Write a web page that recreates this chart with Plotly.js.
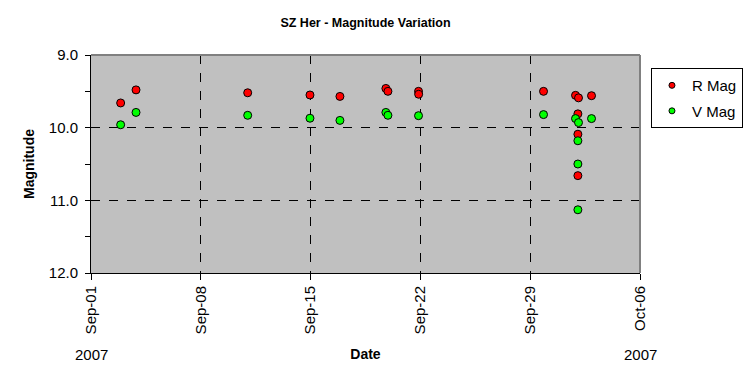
<!DOCTYPE html>
<html>
<head>
<meta charset="utf-8">
<script src="https://cdn.plot.ly/plotly-3.0.1.min.js"></script>
<style>html,body{margin:0;padding:0;background:#fff;}#chart{width:749px;height:385px;}</style>
</head>
<body>
<div id="chart"></div>
<script>
var rDates = ["2007-09-02 21:22","2007-09-03 20:53","2007-09-10 23:45","2007-09-14 23:02","2007-09-16 20:53","2007-09-19 19:12","2007-09-19 22:19","2007-09-21 21:07","2007-09-21 21:20","2007-09-29 20:24","2007-10-01 21:21","2007-10-02 01:55","2007-10-02 00:58","2007-10-02 00:58","2007-10-02 00:58","2007-10-02 21:50"];
var rMag = [9.66,9.48,9.52,9.55,9.57,9.46,9.50,9.50,9.54,9.50,9.555,9.59,9.81,10.09,10.66,9.56];
var vDates = ["2007-09-02 21:22","2007-09-03 20:53","2007-09-10 23:45","2007-09-14 23:02","2007-09-16 20:53","2007-09-19 19:12","2007-09-19 22:19","2007-09-21 21:07","2007-09-29 20:24","2007-10-01 21:21","2007-10-02 01:55","2007-10-02 00:58","2007-10-02 00:58","2007-10-02 00:58","2007-10-02 21:50"];
var vMag = [9.96,9.79,9.83,9.87,9.90,9.79,9.83,9.835,9.82,9.875,9.93,10.18,10.50,11.13,9.875];
var xTickVals = ["2007-09-01","2007-09-08","2007-09-15","2007-09-22","2007-09-29","2007-10-06"];
var xTickText = ["Sep-01","Sep-08","Sep-15","Sep-22","Sep-29","Oct-06"];
var yTickVals = [9,10,11,12];
var yTickText = ["9.0","10.0","11.0","12.0"];
var yMinorVals = [9.5, 10.5, 11.5];
var seriesNames = ["R Mag", "V Mag"];
var seriesColors = ["#ff0000", "#00ff00"];

var font = "Arial, 'Liberation Sans', sans-serif";
var traces = [
  {x: rDates, y: rMag, name: seriesNames[0], mode: "markers", type: "scatter", showlegend: false,
   marker: {color: seriesColors[0], size: 8, line: {color: "#000", width: 1}}},
  {x: vDates, y: vMag, name: seriesNames[1], mode: "markers", type: "scatter", showlegend: false,
   marker: {color: seriesColors[1], size: 8, line: {color: "#000", width: 1}}},
  {x: [null], y: [null], name: seriesNames[0], mode: "markers", type: "scatter", legendgroup: "r",
   marker: {color: seriesColors[0], size: 6, line: {color: "#000", width: 1}}},
  {x: [null], y: [null], name: seriesNames[1], mode: "markers", type: "scatter", legendgroup: "v",
   marker: {color: seriesColors[1], size: 6, line: {color: "#000", width: 1}}}
];
var layout = {
  width: 749, height: 385,
  margin: {l: 91, r: 109, t: 55, b: 112, pad: 0, autoexpand: false},
  paper_bgcolor: "#ffffff",
  plot_bgcolor: "#c0c0c0",
  font: {family: font, size: 15, color: "#000"},
  title: {text: "<b>SZ Her - Magnitude Variation</b>", font: {family: font, size: 12.5, color: "#000"},
          x: 0.5, xref: "paper", xanchor: "center", y: 0.94, yref: "container", yanchor: "middle"},
  showlegend: true,
  legend: {x: 1.02, y: 0.94, xanchor: "left", yanchor: "top", bordercolor: "#000", borderwidth: 1,
           bgcolor: "#fff", font: {family: font, size: 15, color: "#000"}, itemsizing: "trace",
           itemwidth: 30, tracegroupgap: 3},
  xaxis: {type: "date", range: ["2007-09-01", "2007-10-06"], tickmode: "array", tickvals: xTickVals, ticktext: xTickText,
          tickangle: -90, ticks: "outside", ticklen: 6, tickcolor: "#000", showline: true, linecolor: "#000", linewidth: 1,
          showgrid: true, gridcolor: "#000", griddash: "dash", gridwidth: 1, zeroline: false,
          tickfont: {family: font, size: 15, color: "#000"},
          title: {text: "<b>Date</b>", font: {family: font, size: 14, color: "#000"}, standoff: 15}},
  yaxis: {range: [12, 9], tickmode: "array", tickvals: yTickVals, ticktext: yTickText,
          ticks: "outside", ticklen: 5, tickcolor: "#000", showline: true, linecolor: "#000", linewidth: 1,
          showgrid: true, gridcolor: "#000", griddash: "dash", gridwidth: 1, zeroline: false,
          tickfont: {family: font, size: 15, color: "#000"}, ticklabelstandoff: 4,
          minor: {tickvals: yMinorVals, ticks: "outside", ticklen: 5, tickcolor: "#000", showgrid: false},
          title: {text: "<b>Magnitude</b>", font: {family: font, size: 14, color: "#000"}, standoff: 10}},
  shapes: [
    {type: "line", xref: "paper", yref: "paper", x0: 0, x1: 1, y0: 1, y1: 1, line: {color: "#808080", width: 2}, layer: "above"},
    {type: "line", xref: "paper", yref: "paper", x0: 1, x1: 1, y0: 0, y1: 1, line: {color: "#808080", width: 2}, layer: "above"}
  ],
  annotations: [
    {text: "2007", xref: "paper", yref: "paper", x: 0, y: -0.375, xanchor: "center", yanchor: "middle", showarrow: false, font: {family: font, size: 15, color: "#000"}},
    {text: "2007", xref: "paper", yref: "paper", x: 1, y: -0.375, xanchor: "center", yanchor: "middle", showarrow: false, font: {family: font, size: 15, color: "#000"}}
  ]
};
Plotly.newPlot("chart", traces, layout, {displayModeBar: false, staticPlot: true});
</script>
</body>
</html>
